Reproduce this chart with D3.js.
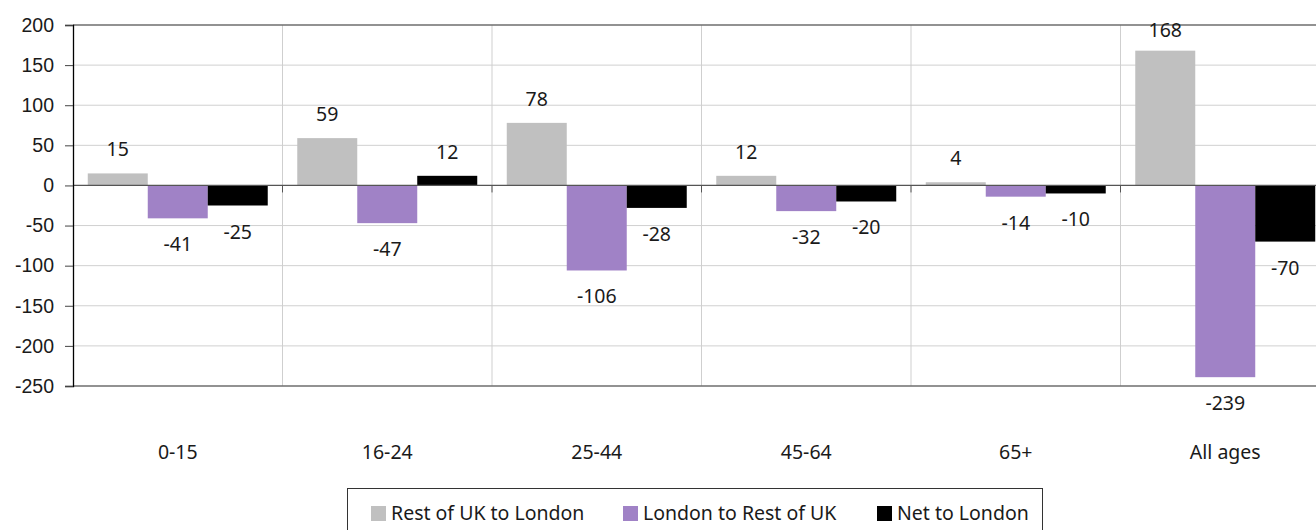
<!DOCTYPE html>
<html><head><meta charset="utf-8">
<script src="https://cdn.jsdelivr.net/npm/d3@7"></script>
<style>
html,body{margin:0;padding:0;background:#fff;}
svg{display:block;font-family:"Noto Sans",sans-serif;}
</style></head>
<body>
<svg id="chart" width="1316" height="530"></svg>
<script>
const categories = ["0-15","16-24","25-44","45-64","65+","All ages"];
const seriesNames = ["Rest of UK to London","London to Rest of UK","Net to London"];
const restToLondon = [15,59,78,12,4,168];
const londonToRest = [-41,-47,-106,-32,-14,-239];
const netToLondon = [-25,12,-28,-20,-10,-70];
const yTicks = [200,150,100,50,0,-50,-100,-150,-200,-250];
const colors = ["#c0c0c0","#a082c6","#000000"];

(function(){
const series = [restToLondon, londonToRest, netToLondon];
const svg = d3.select("#chart");
const plotLeft = 73, band = 209.5, plotTop = 25, plotBottom = 386;
const fs = 19.5;

const x0 = d3.scaleBand().domain(categories).range([plotLeft, plotLeft + band*categories.length]).paddingInner(0).paddingOuter(0);
const x1 = d3.scaleBand().domain(seriesNames).range([0, x0.bandwidth()]).paddingInner(0).paddingOuter(0.246);
const y = d3.scaleLinear().domain([-250,200]).range([plotBottom, plotTop]);

svg.append("g").selectAll("line").data(yTicks.filter(t => t!==0 && t!==200 && t!==-250)).join("line")
  .attr("x1", plotLeft).attr("x2", 1316).attr("y1", d=>y(d)).attr("y2", d=>y(d))
  .attr("stroke", "#d0d0d0").attr("stroke-width", 1);

svg.append("g").selectAll("line").data(categories.slice(1)).join("line")
  .attr("x1", d=>x0(d)).attr("x2", d=>x0(d)).attr("y1", plotTop).attr("y2", plotBottom)
  .attr("stroke", "#cfcfcf").attr("stroke-width", 1);

svg.append("line").attr("x1", plotLeft).attr("x2",1316).attr("y1", y(200)).attr("y2", y(200)).attr("stroke","#6e6e6e").attr("stroke-width",1.3);
svg.append("line").attr("x1", plotLeft).attr("x2",1316).attr("y1", y(-250)).attr("y2", y(-250)).attr("stroke","#6e6e6e").attr("stroke-width",1.3);

categories.forEach((c, i) => {
  const g = svg.append("g").attr("transform", `translate(${x0(c)},0)`);
  seriesNames.forEach((s, j) => {
    const v = series[j][i];
    g.append("rect")
      .attr("x", x1(s)).attr("width", x1.bandwidth())
      .attr("y", y(Math.max(0,v))).attr("height", Math.abs(y(v)-y(0)))
      .attr("fill", colors[j]);
    g.append("text")
      .attr("x", x1(s) + x1.bandwidth()/2)
      .attr("y", v >= 0 ? Math.max(y(v) - 17, 37) : y(v) + 33)
      .attr("text-anchor","middle").attr("font-size", fs).attr("fill","#1a1a1a")
      .text(v);
  });
});

svg.append("line").attr("x1", plotLeft).attr("x2",1316).attr("y1", y(0)).attr("y2", y(0)).attr("stroke","#555").attr("stroke-width",1.3);
svg.append("g").selectAll("line").data(categories.slice(1)).join("line")
  .attr("x1", d=>x0(d)).attr("x2", d=>x0(d)).attr("y1", y(0)).attr("y2", y(0)+7)
  .attr("stroke", "#555").attr("stroke-width", 1);

const yAxis = d3.axisLeft(y).tickValues(yTicks).tickSize(8).tickPadding(11).tickFormat(d3.format("d"));
const ya = svg.append("g").attr("transform", `translate(${plotLeft},0)`).call(yAxis);
ya.select(".domain").attr("stroke","#000").attr("stroke-width",1.3);
ya.selectAll(".tick line").attr("stroke","#444");
ya.selectAll(".tick text").attr("font-size",fs).attr("font-family",null).attr("fill","#1a1a1a")
  .text(d => d < 0 ? "-" + Math.abs(d) : d);

svg.append("g").selectAll("text").data(categories).join("text")
  .attr("x", d => x0(d) + x0.bandwidth()/2).attr("y", 459)
  .attr("text-anchor","middle").attr("font-size",fs).attr("fill","#1a1a1a").text(d=>d);

svg.append("rect").attr("x",347.5).attr("y",488.5).attr("width",695).attr("height",60)
  .attr("fill","none").attr("stroke","#333").attr("stroke-width",1);
const legX = [371, 623, 877];
seriesNames.forEach((s,j) => {
  svg.append("rect").attr("x", legX[j]).attr("y", 506).attr("width", 15).attr("height", 15).attr("fill", colors[j]);
  svg.append("text").attr("x", legX[j] + 20).attr("y", 520).attr("font-size",fs).attr("fill","#1a1a1a").text(s);
});
})();
</script>
</body></html>
